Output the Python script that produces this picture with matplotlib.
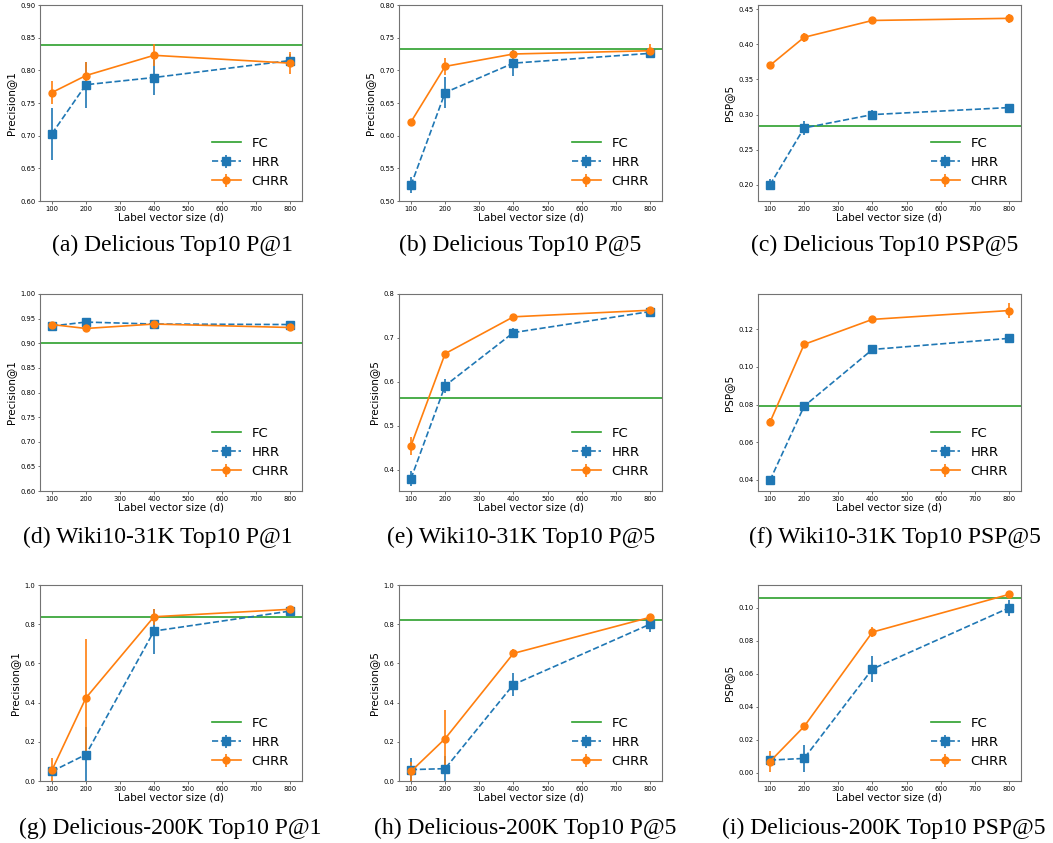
import numpy as np
import matplotlib
matplotlib.use("Agg")
from matplotlib import pyplot as plt

SIZES = [100, 200, 400, 800]

CAPTIONS = ["(a) Delicious Top10 P@1", "(b) Delicious Top10 P@5", "(c) Delicious Top10 PSP@5",
            "(d) Wiki10-31K Top10 P@1", "(e) Wiki10-31K Top10 P@5", "(f) Wiki10-31K Top10 PSP@5",
            "(g) Delicious-200K Top10 P@1", "(h) Delicious-200K Top10 P@5", "(i) Delicious-200K Top10 PSP@5"]
Y_LABELS = ["Precision@1", "Precision@5", "PSP@5"] * 3

FC = [0.839, 0.732, 0.284,
      0.900, 0.562, 0.0791,
      0.835, 0.821, 0.1059]

HRR = [[0.703, 0.778, 0.789, 0.815],
       [0.524, 0.666, 0.711, 0.726],
       [0.200, 0.281, 0.300, 0.310],
       [0.935, 0.943, 0.939, 0.938],
       [0.379, 0.591, 0.712, 0.760],
       [0.0396, 0.0791, 0.1093, 0.1152],
       [0.049, 0.135, 0.765, 0.867],
       [0.058, 0.063, 0.492, 0.800],
       [0.0076, 0.0086, 0.0629, 0.100]]
HRR_ERR = [[0.040, 0.035, 0.027, 0.010],
           [0.012, 0.024, 0.020, 0.006],
           [0.008, 0.010, 0.007, 0.005],
           [0.005, 0.004, 0.005, 0.004],
           [0.017, 0.016, 0.010, 0.004],
           [0.0012, 0.002, 0.002, 0.002],
           [0.010, 0.140, 0.115, 0.010],
           [0.060, 0.063, 0.060, 0.040],
           [0.002, 0.008, 0.008, 0.005]]

CHRR = [[0.766, 0.792, 0.823, 0.811],
        [0.621, 0.706, 0.725, 0.730],
        [0.370, 0.410, 0.434, 0.437],
        [0.938, 0.930, 0.939, 0.932],
        [0.454, 0.664, 0.748, 0.763],
        [0.0706, 0.112, 0.1253, 0.130],
        [0.055, 0.424, 0.838, 0.876],
        [0.049, 0.216, 0.651, 0.835],
        [0.0067, 0.028, 0.0853, 0.1082]]
CHRR_ERR = [[0.018, 0.020, 0.017, 0.017],
            [0.003, 0.013, 0.005, 0.011],
            [0.003, 0.006, 0.003, 0.006],
            [0.006, 0.004, 0.004, 0.006],
            [0.020, 0.005, 0.003, 0.004],
            [0.002, 0.001, 0.001, 0.004],
            [0.060, 0.300, 0.040, 0.010],
            [0.050, 0.145, 0.020, 0.008],
            [0.0065, 0.001, 0.003, 0.001]]

YLIMS = [(0.60, 0.90), (0.50, 0.80), (0.177, 0.456),
         (0.60, 1.00), (0.351, 0.80), (0.034, 0.1388),
         (0.0, 1.0), (0.0, 1.0), (-0.0051, 0.1139)]
YTICK_STEP = [0.05, 0.05, 0.05,
              0.05, 0.1, 0.02,
              0.2, 0.2, 0.02]

W, H = 1053, 843
fig = plt.figure(figsize=(W / 100, H / 100), dpi=100)

col_left = [40, 399, 758]
col_right = [302, 662, 1021]
row_top = [5, 294, 585]
row_bot = [201, 491, 781]
cap_x = [172, 520, 885, 158, 521, 895, 170, 525, 884]
cap_y = [245, 537, 828]

for k in range(9):
    r, c = k // 3, k % 3
    ax = fig.add_axes([col_left[c] / W, 1 - row_bot[r] / H,
                       (col_right[c] - col_left[c]) / W, (row_bot[r] - row_top[r]) / H])
    ax.axhline(FC[k], color='#2ca02c', lw=1.2, label='FC')
    ax.errorbar(SIZES, HRR[k], yerr=HRR_ERR[k], fmt='s--', color='#1f77b4',
                lw=1.2, elinewidth=1.2, ms=5.5, label='HRR')
    ax.errorbar(SIZES, CHRR[k], yerr=CHRR_ERR[k], fmt='o-', color='#ff7f0e',
                lw=1.2, elinewidth=1.2, ms=5, label='CHRR')
    ax.set_xlim(65, 835)
    lo, hi = YLIMS[k]
    ax.set_ylim(lo, hi)
    st = YTICK_STEP[k]
    ticks = np.arange(np.ceil(lo / st - 1e-6) * st, hi + 1e-9, st)
    ax.set_yticks(np.round(ticks, 4))
    ax.set_xticks(range(100, 801, 100))
    ax.tick_params(labelsize=4.9, length=1.8, width=0.4, pad=1.5)
    for s in ax.spines.values():
        s.set_color('0.45')
        s.set_linewidth(0.8)
    ax.set_xlabel("Label vector size (d)", fontsize=7.5, labelpad=1)
    ax.set_ylabel(Y_LABELS[k], fontsize=7.5, labelpad=3)
    ax.legend(loc='lower right', frameon=False, fontsize=9.5, handlelength=2.2,
              borderaxespad=0.6, labelspacing=0.45)
    fig.text(cap_x[k] / W, 1 - cap_y[r] / H, CAPTIONS[k], ha='center', va='center',
             fontsize=17, family=['Liberation Serif', 'DejaVu Serif'])

fig.savefig("out.png", dpi=100)
